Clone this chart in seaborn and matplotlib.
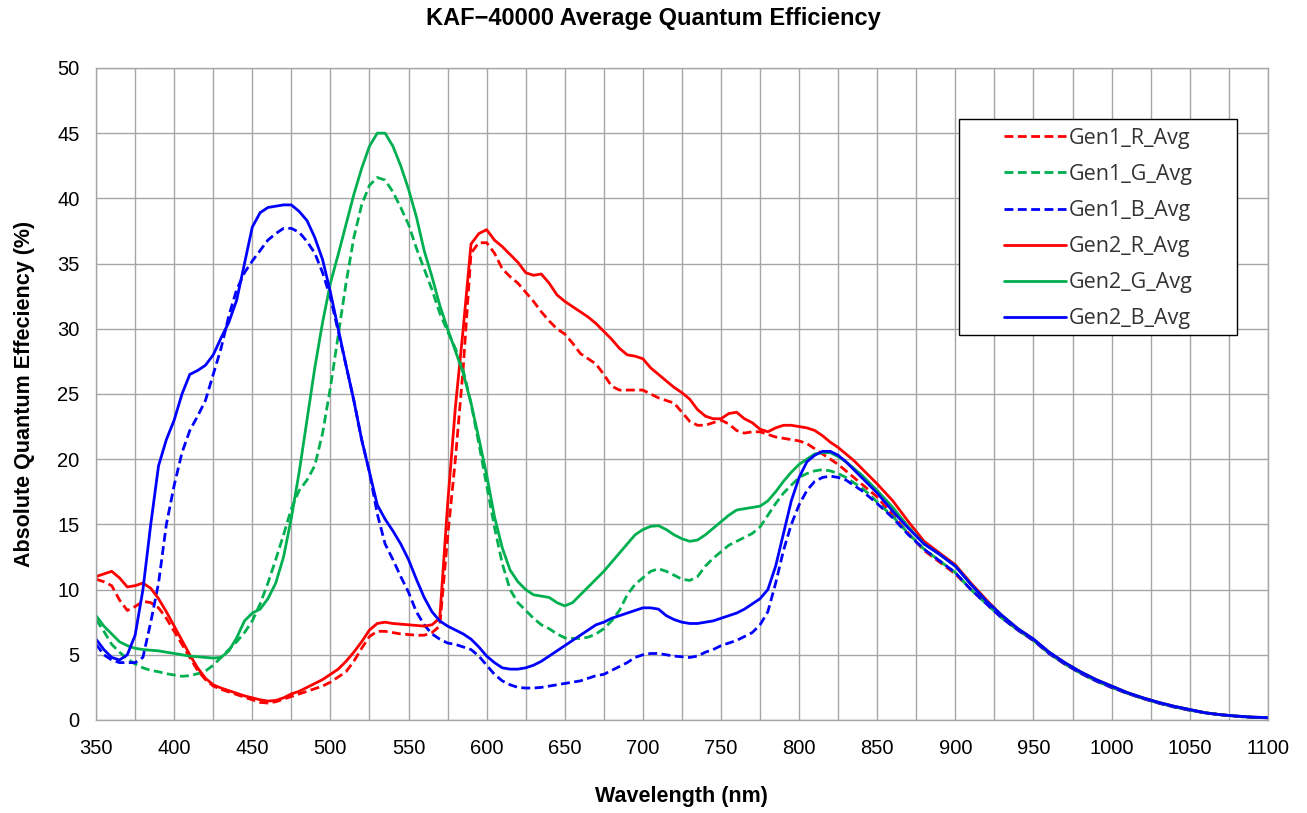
import numpy as np
import pandas as pd
import matplotlib
matplotlib.use("Agg")
import matplotlib.pyplot as plt
import seaborn as sns
from matplotlib.ticker import MultipleLocator
from matplotlib.patches import Rectangle

# wavelength grid (nm): 5 nm steps up to 850, then 10 nm steps
wavelength = list(range(350, 851, 5)) + list(range(860, 1101, 10))

tail_b2 = [16.0, 14.7, 13.5, 12.7, 11.8, 10.4, 9.1, 8.0, 7.0, 6.2, 5.2, 4.4, 3.7, 3.1, 2.6,
           2.1, 1.7, 1.35, 1.05, 0.8, 0.55, 0.4, 0.3, 0.22, 0.18]

gen2_b = [6.2, 5.4, 4.8, 4.6, 5.0, 6.5, 10.0, 15.0, 19.5, 21.5, 23.0, 25.0, 26.5, 26.8, 27.2,
          28.0, 29.3, 30.5, 32.2, 35.0, 37.8, 38.9, 39.3, 39.4, 39.5, 39.5, 39.0, 38.3, 37.0,
          35.3, 32.8, 30.0, 27.2, 24.5, 21.5, 19.0, 16.5, 15.4, 14.5, 13.5, 12.3, 10.8, 9.4,
          8.3, 7.6, 7.2, 6.9, 6.6, 6.2, 5.6, 4.9, 4.4, 4.0, 3.9, 3.9, 4.0, 4.2, 4.5, 4.9, 5.3,
          5.7, 6.1, 6.5, 6.9, 7.3, 7.5, 7.8, 8.0, 8.2, 8.4, 8.6, 8.6, 8.5, 8.0, 7.7, 7.5, 7.4,
          7.4, 7.5, 7.6, 7.8, 8.0, 8.2, 8.5, 8.9, 9.3, 10.0, 11.8, 14.3, 16.8, 18.6, 19.8,
          20.3, 20.6, 20.6, 20.3, 19.8, 19.2, 18.6, 18.0, 17.4] + tail_b2

gen1_b = [5.8, 5.0, 4.6, 4.4, 4.4, 4.4, 4.8, 7.5, 10.5, 15.0, 18.0, 20.5, 22.2, 23.3, 24.5,
          26.5, 28.5, 31.0, 33.0, 34.3, 35.2, 36.0, 36.8, 37.3, 37.7, 37.7, 37.4, 36.7, 35.8,
          34.3, 32.4, 29.8, 27.2, 24.5, 21.5, 19.0, 15.8, 13.5, 12.3, 11.0, 9.8, 8.3, 7.3,
          6.6, 6.2, 5.9, 5.8, 5.6, 5.4, 4.9, 4.2, 3.5, 3.0, 2.7, 2.5, 2.45, 2.45, 2.5, 2.6,
          2.7, 2.8, 2.9, 3.0, 3.2, 3.4, 3.5, 3.8, 4.1, 4.4, 4.8, 5.0, 5.1, 5.1, 5.0, 4.9,
          4.85, 4.8, 4.9, 5.2, 5.4, 5.7, 5.9, 6.1, 6.4, 6.7, 7.3, 8.3, 10.5, 13.0, 15.0, 16.5,
          17.6, 18.3, 18.6, 18.7, 18.6, 18.4, 18.0, 17.6, 17.1, 16.6,
          15.5, 14.2, 13.1, 12.2, 11.3, 10.0, 8.9, 7.8, 6.9, 6.1, 5.1, 4.3, 3.6, 3.0, 2.5,
          2.05, 1.65, 1.3, 1.0, 0.75, 0.55, 0.4, 0.28, 0.2, 0.17]

gen2_r = [11.0, 11.2, 11.4, 10.9, 10.2, 10.3, 10.5, 10.1, 9.3, 8.3, 7.2, 6.1, 5.0, 4.0, 3.2,
          2.7, 2.45, 2.25, 2.05, 1.85, 1.7, 1.55, 1.45, 1.5, 1.7, 2.0, 2.2, 2.5, 2.8, 3.1,
          3.5, 3.9, 4.5, 5.2, 6.0, 6.9, 7.4, 7.5, 7.4, 7.35, 7.3, 7.25, 7.2, 7.3, 7.8, 16.5,
          24.0, 30.0, 36.5, 37.3, 37.6, 36.8, 36.3, 35.7, 35.1, 34.3, 34.1, 34.2, 33.5, 32.6,
          32.1, 31.7, 31.3, 30.9, 30.4, 29.8, 29.2, 28.5, 28.0, 27.9, 27.7, 27.0, 26.5, 26.0,
          25.5, 25.1, 24.6, 23.8, 23.3, 23.1, 23.1, 23.5, 23.6, 23.1, 22.8, 22.3, 22.1, 22.4,
          22.6, 22.6, 22.5, 22.4, 22.2, 21.8, 21.3, 20.9, 20.4, 19.9, 19.3, 18.7, 18.1,
          16.8, 15.2, 13.7, 12.8, 11.9, 10.5, 9.2, 8.0, 7.0, 6.2, 5.2, 4.4, 3.7, 3.1, 2.6,
          2.1, 1.7, 1.35, 1.05, 0.8, 0.55, 0.4, 0.3, 0.22, 0.18]

gen1_r = [10.8, 10.6, 10.3, 9.2, 8.4, 8.7, 9.1, 9.0, 8.6, 7.8, 6.8, 5.8, 4.8, 3.8, 3.1, 2.6,
          2.35, 2.15, 1.95, 1.75, 1.55, 1.35, 1.3, 1.4, 1.6, 1.8, 2.0, 2.2, 2.4, 2.6, 2.9, 3.3,
          3.7, 4.5, 5.5, 6.4, 6.8, 6.8, 6.7, 6.6, 6.55, 6.5, 6.5, 6.7, 7.2, 14.0, 20.0, 27.0,
          35.8, 36.6, 36.6, 35.8, 34.6, 34.0, 33.5, 32.8, 32.1, 31.3, 30.6, 30.0, 29.6, 28.9,
          28.1, 27.7, 27.3, 26.5, 25.6, 25.3, 25.3, 25.3, 25.3, 25.0, 24.7, 24.5, 24.3, 23.6,
          22.9, 22.6, 22.6, 22.8, 23.0, 22.7, 22.2, 22.0, 22.1, 22.1, 21.9, 21.7, 21.6, 21.5,
          21.4, 21.2, 20.8, 20.4, 20.0, 19.6, 19.1, 18.6, 18.1, 17.6, 17.1,
          15.7, 14.3, 13.0, 12.1, 11.2, 10.0, 8.9, 7.8, 6.9, 6.1, 5.1, 4.3, 3.6, 3.0, 2.5,
          2.05, 1.65, 1.3, 1.0, 0.75, 0.55, 0.4, 0.28, 0.2, 0.17]

gen2_g = [8.0, 7.2, 6.6, 6.0, 5.7, 5.5, 5.4, 5.35, 5.3, 5.2, 5.1, 5.0, 4.9, 4.85, 4.8, 4.75,
          4.8, 5.3, 6.3, 7.6, 8.2, 8.5, 9.3, 10.5, 12.5, 15.5, 19.0, 23.0, 27.0, 30.5, 33.5,
          35.7, 38.0, 40.3, 42.3, 44.0, 45.0, 45.0, 44.0, 42.5, 40.7, 38.6, 36.0, 34.0, 31.8,
          30.0, 28.3, 26.6, 24.3, 21.6, 18.8, 15.6, 13.2, 11.5, 10.6, 10.0, 9.6, 9.5, 9.4,
          9.0, 8.75, 9.0, 9.6, 10.2, 10.8, 11.4, 12.1, 12.8, 13.5, 14.2, 14.6, 14.85, 14.9,
          14.6, 14.2, 13.9, 13.7, 13.8, 14.2, 14.7, 15.2, 15.7, 16.1, 16.2, 16.3, 16.4, 16.8,
          17.5, 18.3, 19.0, 19.6, 20.0, 20.4, 20.5, 20.5, 20.2, 19.8, 19.3, 18.8, 18.2, 17.6,
          16.3, 14.8, 13.5, 12.7, 11.8, 10.4, 9.1, 8.0, 7.0, 6.2, 5.2, 4.4, 3.7, 3.1, 2.6,
          2.1, 1.7, 1.35, 1.05, 0.8, 0.55, 0.4, 0.3, 0.22, 0.18]

gen1_g = [7.7, 6.8, 5.8, 5.2, 4.7, 4.3, 4.0, 3.8, 3.7, 3.55, 3.45, 3.35, 3.4, 3.55, 3.75, 4.2,
          4.8, 5.4, 6.0, 6.7, 7.6, 8.9, 10.5, 12.3, 14.2, 16.2, 17.6, 18.4, 19.5, 22.0, 25.5,
          29.5, 33.5, 37.0, 39.5, 41.0, 41.6, 41.4, 40.5, 39.3, 38.0, 36.2, 34.6, 33.0, 31.2,
          29.8, 28.5, 26.8, 24.3, 21.2, 18.0, 14.8, 12.0, 10.0, 9.0, 8.4, 7.8, 7.3, 7.0, 6.6,
          6.3, 6.25, 6.25, 6.35, 6.6, 7.0, 7.6, 8.4, 9.6, 10.4, 10.9, 11.4, 11.6, 11.4, 11.1,
          10.8, 10.7, 11.0, 11.8, 12.4, 12.9, 13.4, 13.7, 14.0, 14.3, 14.8, 15.7, 16.6, 17.4,
          18.0, 18.6, 18.9, 19.1, 19.2, 19.1, 18.9, 18.6, 18.2, 17.8, 17.3, 16.7,
          15.6, 14.3, 13.1, 12.2, 11.3, 10.0, 8.9, 7.8, 6.9, 6.1, 5.1, 4.3, 3.6, 3.0, 2.5,
          2.05, 1.65, 1.3, 1.0, 0.75, 0.55, 0.4, 0.28, 0.2, 0.17]

series = [
    ("Gen1_R_Avg", gen1_r, "#FF0000", True),
    ("Gen1_G_Avg", gen1_g, "#00B050", True),
    ("Gen1_B_Avg", gen1_b, "#0000FF", True),
    ("Gen2_R_Avg", gen2_r, "#FF0000", False),
    ("Gen2_G_Avg", gen2_g, "#00B050", False),
    ("Gen2_B_Avg", gen2_b, "#0000FF", False),
]

sns.set_theme(style="white")
plt.rcParams["font.family"] = ["Liberation Sans", "DejaVu Sans"]
plt.rcParams["text.color"] = "black"
plt.rcParams["axes.labelcolor"] = "black"

fig = plt.figure(figsize=(13.07, 8.13), dpi=100)
ax = fig.add_axes([0.0735, 0.1144, 0.8965, 0.802])

for name, vals, color, dashed in series:
    df = pd.DataFrame({"wl": wavelength, "qe": vals})
    sns.lineplot(data=df, x="wl", y="qe", ax=ax, color=color, linewidth=2.0, label=name)
    if dashed:
        ax.get_lines()[-1].set_dashes((3.2, 1.6))

ax.set_xlim(350, 1100)
ax.set_ylim(0, 50)
ax.xaxis.set_major_locator(MultipleLocator(50))
ax.xaxis.set_minor_locator(MultipleLocator(25))
ax.yaxis.set_major_locator(MultipleLocator(5))
ax.grid(True, which="both", color="#A6A6A6", linewidth=1.0)
ax.set_axisbelow(True)
for s in ax.spines.values():
    s.set_color("#A6A6A6")
    s.set_linewidth(1.0)

ax.tick_params(axis="both", which="both", direction="out", color="#A6A6A6",
               length=6, width=1.0, labelsize=14.5, labelcolor="black")
ax.tick_params(axis="x", which="major", pad=8)
ax.tick_params(axis="y", pad=6)

ax.set_xlabel("Wavelength (nm)", fontsize=15.5, fontweight="bold", labelpad=20)
ax.set_ylabel("Absolute Quantum Effeciency (%)", fontsize=15.5, fontweight="bold",
              labelpad=16)
fig.text(0.5, 0.977, "KAF\u221240000 Average Quantum Efficiency", ha="center", va="center",
         fontsize=17, fontweight="bold")

# legend box drawn separately (Excel-style wide left padding)
ax.add_patch(Rectangle((0.7363, 0.5905), 0.2372, 0.3313, transform=ax.transAxes,
                       facecolor="white", edgecolor="black", linewidth=1.0, zorder=4))
leg = ax.legend(loc="upper left", bbox_to_anchor=(0.7745, 0.908), frameon=False,
                handlelength=2.9, borderpad=0, labelspacing=0.7, handletextpad=0.15,
                borderaxespad=0, prop={"family": ["Open Sans", "DejaVu Sans"], "size": 15.5})
leg.set_zorder(5)
for t in leg.get_texts():
    t.set_color("#333333")

fig.savefig("out.png", dpi=100)
